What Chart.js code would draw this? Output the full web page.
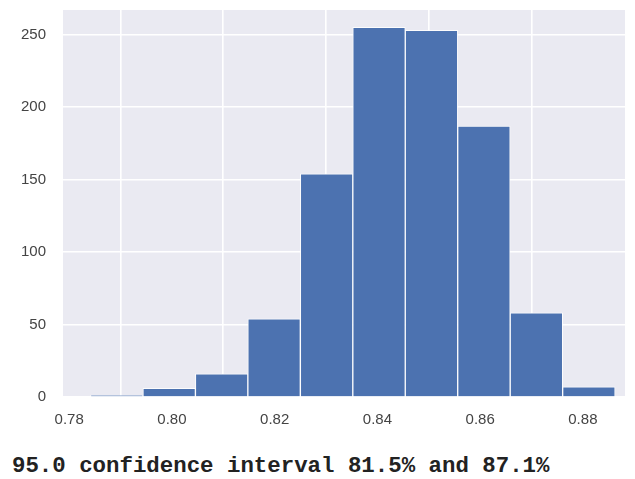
<!DOCTYPE html>
<html>
<head>
<meta charset="utf-8">
<script src="https://cdn.jsdelivr.net/npm/chart.js@4.4.1/dist/chart.umd.min.js"></script>
<style>
  html, body { margin: 0; padding: 0; background: #ffffff; }
  body { width: 635px; height: 479px; position: relative; overflow: hidden; }
  #wrap { position: absolute; left: 0; top: 0; width: 635px; height: 440px; }
  #caption {
    position: absolute; left: 12px; top: 453px;
    font-family: 'Liberation Mono', 'Courier New', monospace;
    font-weight: bold; font-size: 22.4px; color: #222222;
    white-space: pre; line-height: 26px;
  }
</style>
</head>
<body>
<div id="wrap"><canvas id="hist"></canvas></div>
<div id="caption">95.0 confidence interval 81.5% and 87.1%</div>
<script>
// bin centres (accuracy) and counts
const binCenters = [0.78926, 0.79947, 0.80968, 0.81989, 0.83011, 0.84032, 0.85053, 0.86074, 0.87096, 0.88117];
const binCounts = [1, 6, 16, 54, 154, 255, 253, 187, 58, 7];
const xTicks = [0.78, 0.80, 0.82, 0.84, 0.86, 0.88];
const yTicks = [0, 50, 100, 150, 200, 250];

const colors = {
  bar: '#4C72B0',
  panel: '#EAEAF2',
  grid: '#ffffff',
  text: '#444444'
};

// fond gris façon seaborn darkgrid
const panelBackground = {
  id: 'panelBackground',
  beforeDraw(chart) {
    const a = chart.chartArea;
    const ctx = chart.ctx;
    ctx.save();
    ctx.fillStyle = colors.panel;
    ctx.fillRect(a.left, a.top, a.right - a.left, a.bottom - a.top);
    ctx.restore();
  }
};

const points = binCenters.map((x, i) => ({ x: x, y: binCounts[i] }));

new Chart(document.getElementById('hist'), {
  type: 'bar',
  data: {
    datasets: [{
      data: points,
      backgroundColor: colors.bar,
      borderColor: 'rgba(255,255,255,0.85)',
      borderWidth: 1,
      borderSkipped: 'bottom',
      barPercentage: 1,
      categoryPercentage: 1
    }]
  },
  options: {
    responsive: true,
    maintainAspectRatio: false,
    animation: false,
    layout: { padding: { top: 10, right: 10, left: 0, bottom: 0 } },
    plugins: {
      legend: { display: false },
      tooltip: { enabled: false }
    },
    scales: {
      x: {
        type: 'linear',
        offset: false,
        min: 0.7788,
        max: 0.8882,
        afterBuildTicks: axis => { axis.ticks = xTicks.map(v => ({ value: v })); },
        afterFit: scale => {
          scale.height = 43;
          scale.paddingLeft = 0;
          scale.paddingRight = 0;
        },
        border: { display: false },
        grid: { color: colors.grid, lineWidth: 1.6, drawTicks: false },
        ticks: {
          color: colors.text,
          padding: 14,
          maxRotation: 0,
          font: { family: "'Liberation Sans', Arial, sans-serif", size: 15 },
          callback: v => Number(v).toFixed(2)
        }
      },
      y: {
        min: 0,
        max: 267,
        afterBuildTicks: axis => { axis.ticks = yTicks.map(v => ({ value: v })); },
        afterFit: scale => {
          scale.width = 63;
          scale.paddingTop = 0;
          scale.paddingBottom = 0;
        },
        border: { display: false },
        grid: { color: colors.grid, lineWidth: 1.6, drawTicks: false },
        ticks: {
          color: colors.text,
          padding: 17,
          font: { family: "'Liberation Sans', Arial, sans-serif", size: 15 }
        }
      }
    }
  },
  plugins: [panelBackground]
});
</script>
</body>
</html>
